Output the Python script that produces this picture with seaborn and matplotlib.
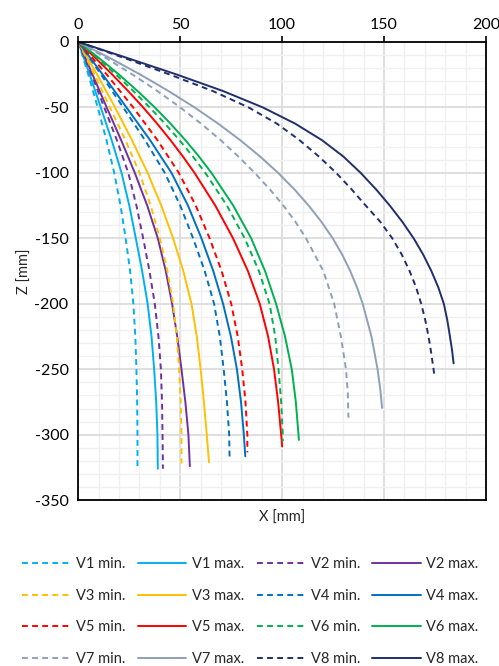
import pandas as pd
import matplotlib
matplotlib.use("Agg")
import matplotlib.pyplot as plt
from matplotlib.ticker import MultipleLocator
import seaborn as sns

z_v1_min = [0, -25, -50, -75, -100, -125, -150, -175, -200, -225, -250, -275, -300, -325]
z_v1_max = [0, -25, -50, -75, -100, -125, -150, -175, -200, -225, -250, -275, -300, -326]
z_v2_min = [0, -25, -50, -75, -100, -125, -150, -175, -200, -225, -250, -275, -300, -326]
z_v2_max = [0, -25, -50, -75, -100, -125, -150, -175, -200, -225, -250, -275, -300, -324]
z_v3_min = [0, -25, -50, -75, -100, -125, -150, -175, -200, -225, -250, -275, -300, -322]
z_v3_max = [0, -25, -50, -75, -100, -125, -150, -175, -200, -225, -250, -275, -300, -321]
z_v4_min = [0, -25, -50, -75, -100, -125, -150, -175, -200, -225, -250, -275, -300, -318.6]
z_v4_max = [0, -25, -50, -75, -100, -125, -150, -175, -200, -225, -250, -275, -300, -316.5]
z_v5_min = [0, -25, -50, -75, -100, -125, -150, -175, -200, -225, -250, -275, -300, -313.5]
z_v5_max = [0, -12.5, -25, -37.5, -50, -62.5, -75, -87.5, -100, -125, -150, -175, -200,
            -225, -250, -275, -300, -309]
z_v6_min = [0, -12.5, -25, -37.5, -50, -62.5, -75, -87.5, -100, -125, -150, -175, -200,
            -225, -250, -275, -300, -305]
z_v6_max = [0, -12.5, -25, -37.5, -50, -62.5, -75, -87.5, -100, -125, -150, -175, -200,
            -225, -250, -275, -300, -304]
z_v7_min = [0, -12.5, -25, -37.5, -50, -62.5, -75, -87.5, -100, -112.5, -125, -137.5, -150,
            -175, -200, -225, -250, -268.5, -287]
z_v7_max = [0, -12.5, -25, -37.5, -50, -62.5, -75, -87.5, -100, -112.5, -125, -137.5, -150,
            -162.5, -175, -187.5, -200, -225, -250, -265, -279.5]
z_v8_min = [0, -12.5, -25, -37.5, -50, -62.5, -75, -87.5, -100, -112.5, -125, -137.5, -150,
            -162.5, -175, -187.5, -200, -212.5, -225, -237.5, -256]
z_v8_max = [0, -12.5, -25, -37.5, -50, -62.5, -75, -87.5, -100, -112.5, -125, -137.5, -150,
            -162.5, -175, -187.5, -200, -212.5, -225, -235, -245.5]

# horizontal position X (mm) at those depths
x_v1_min = [0, 4.9, 9.5, 13.8, 17.6, 20.7, 23.2, 25.4, 27.0, 27.95, 28.5, 28.85, 29.0, 29.0]
x_v1_max = [0, 5.6, 11.0, 16.35, 21.2, 25.0, 28.2, 31.3, 34.0, 35.9, 37.2, 38.2, 38.8, 39.0]
x_v2_min = [0, 6.5, 12.7, 18.9, 24.5, 28.5, 31.8, 34.9, 37.5, 39.3, 40.5, 41.05, 41.3, 41.5]
x_v2_max = [0, 7.0, 13.9, 21.0, 27.7, 33.8, 39.0, 42.9, 46.0, 48.5, 50.6, 52.5, 54.0, 54.7]
x_v3_min = [0, 7.9, 15.5, 23.1, 30.0, 35.5, 40.0, 43.7, 46.5, 48.3, 49.4, 50.2, 50.6, 50.6]
x_v3_max = [0, 9.25, 18.0, 26.3, 34.0, 40.7, 46.5, 51.5, 55.5, 58.1, 60.0, 61.6, 63.0, 64.1]
x_v4_min = [0, 11.2, 22.0, 32.7, 42.4, 50.0, 56.3, 62.0, 66.6, 69.4, 71.3, 72.9, 74.0, 74.2]
x_v4_max = [0, 12.0, 23.6, 35.2, 45.7, 53.8, 60.4, 66.2, 71.0, 74.85, 77.8, 79.8, 81.2, 81.9]
x_v5_min = [0, 14.0, 26.9, 38.8, 49.3, 57.6, 64.4, 70.3, 75.0, 78.2, 80.4, 82.0, 82.9, 82.9]
x_v5_max = [0, 8.55, 16.7, 24.46, 31.8, 38.71, 45.2, 51.3, 57.0, 67.2, 75.9, 83.2, 89.0,
            93.1, 96.0, 98.0, 99.5, 100.0]
x_v6_min = [0, 9.5, 18.5, 26.99, 35.0, 42.54, 49.6, 56.2, 62.3, 72.9, 81.6, 88.6, 93.8,
            96.6, 98.2, 99.5, 100.3, 100.3]
x_v6_max = [0, 10.31, 20.0, 29.06, 37.5, 45.29, 52.5, 59.17, 65.3, 76.0, 84.8, 91.6, 97.0,
            101.4, 104.7, 106.7, 108.0, 108.2]
x_v7_min = [0, 13.78, 26.7, 38.78, 50.0, 60.31, 69.8, 78.5, 86.5, 93.9, 100.6, 106.55, 111.7,
            120.2, 125.5, 128.8, 131.3, 132.2, 132.5]
x_v7_max = [0, 15.75, 30.5, 44.26, 57.0, 68.69, 79.4, 89.16, 98.0, 105.93, 113.0, 119.3, 124.8,
            129.46, 133.4, 136.72, 139.5, 143.8, 146.8, 148.1, 149.0]
x_v8_min = [0, 23.0, 45.0, 66.0, 83.5, 97.5, 108.5, 118.0, 126.5, 134.0, 141.0, 148.2, 154.0,
            158.7, 162.5, 165.7, 168.2, 170.2, 171.8, 173.1, 174.8]
x_v8_max = [0, 24.5, 48.5, 71.0, 90.5, 106.5, 119.5, 130.0, 138.5, 146.0, 152.8, 159.0, 164.5,
            169.2, 173.2, 176.6, 179.3, 181.0, 182.3, 183.3, 184.1]

labels = ["V1 min.", "V1 max.", "V2 min.", "V2 max.", "V3 min.", "V3 max.",
          "V4 min.", "V4 max.", "V5 min.", "V5 max.", "V6 min.", "V6 max.",
          "V7 min.", "V7 max.", "V8 min.", "V8 max."]
xs_all = [x_v1_min, x_v1_max, x_v2_min, x_v2_max, x_v3_min, x_v3_max,
          x_v4_min, x_v4_max, x_v5_min, x_v5_max, x_v6_min, x_v6_max,
          x_v7_min, x_v7_max, x_v8_min, x_v8_max]
zs_all = [z_v1_min, z_v1_max, z_v2_min, z_v2_max, z_v3_min, z_v3_max,
          z_v4_min, z_v4_max, z_v5_min, z_v5_max, z_v6_min, z_v6_max,
          z_v7_min, z_v7_max, z_v8_min, z_v8_max]

colors = {
    "V1": "#00B0F0", "V2": "#7030A0", "V3": "#FFC000", "V4": "#0070C0",
    "V5": "#FF0000", "V6": "#00B050", "V7": "#8EA0B8", "V8": "#1F2F6B",
}

sns.set_style("white")
plt.rcParams["font.family"] = ["Lato", "DejaVu Sans"]
plt.rcParams["axes.unicode_minus"] = False

fig = plt.figure(figsize=(4.99, 6.66), dpi=100)
ax = fig.add_axes([0.157, 0.249, 0.817, 0.688])

for name, xs, zs in zip(labels, xs_all, zs_all):
    df = pd.DataFrame({"x": xs, "z": zs})
    ls = (0, (3, 2.2)) if "min" in name else "-"
    sns.lineplot(data=df, x="x", y="z", sort=False, estimator=None, ax=ax,
                 color=colors[name[:2]], linestyle=ls, linewidth=1.4, label=name)

ax.set_xlim(0, 200)
ax.set_ylim(-350, 0)
ax.xaxis.set_major_locator(MultipleLocator(50))
ax.xaxis.set_minor_locator(MultipleLocator(10))
ax.yaxis.set_major_locator(MultipleLocator(50))
ax.yaxis.set_minor_locator(MultipleLocator(10))
ax.grid(which="major", color="#D9D9D9", linewidth=1.2)
ax.grid(which="minor", color="#F0F0F0", linewidth=1.0)
ax.set_axisbelow(True)
ax.xaxis.tick_top()
ax.tick_params(axis="both", which="major", direction="out", length=4, width=1.2,
               labelsize=11.5, colors="black", pad=3)
ax.tick_params(axis="both", which="minor", length=0)
for sp in ax.spines.values():
    sp.set_color("black")
    sp.set_linewidth(1.3)

ax.set_xlabel("X [mm]", fontsize=10.5, labelpad=8)
ax.xaxis.set_label_position("bottom")
ax.set_ylabel("Z [mm]", fontsize=10.5, labelpad=2)

handles, lbls = ax.get_legend_handles_labels()
ax.get_legend().remove()
order = [i + 4 * r for i in range(4) for r in range(4)]
fig.legend([handles[k] for k in order], [lbls[k] for k in order],
           loc="upper left", bbox_to_anchor=(0.018, 0.183), ncol=4, frameon=False,
           fontsize=10.5, handlelength=3.3, handletextpad=0.4, columnspacing=0.85,
           labelspacing=1.2)

fig.savefig("out.png", dpi=100)
